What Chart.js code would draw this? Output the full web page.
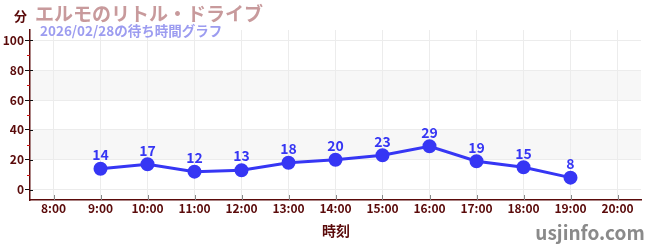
<!DOCTYPE html>
<html>
<head>
<meta charset="utf-8">
<script src="https://cdn.jsdelivr.net/npm/chart.js@4"></script>
<style>
  body { margin: 0; background: #fff; }
  canvas { display: block; }
</style>
</head>
<body>
<canvas id="waitChart" width="650" height="250"></canvas>
<script>
const hours = ['8:00', '9:00', '10:00', '11:00', '12:00', '13:00', '14:00', '15:00', '16:00', '17:00', '18:00', '19:00', '20:00'];
const waitMinutes = [null, 14, 17, 12, 13, 18, 20, 23, 29, 19, 15, 8, null];
const yTicks = [0, 20, 40, 60, 80, 100];
const yMinorTicks = [10, 30, 50, 70, 90];
const bands = [[20, 40], [60, 80]];

const FONT = '"Noto Sans CJK JP", "Noto Sans", sans-serif';
const MAROON = '#5a0a0a';
const BLUE = '#3636f4';

const decorPlugin = {
  id: 'decor',
  beforeDraw(chart) {
    const { ctx, chartArea, scales } = chart;
    ctx.save();
    ctx.fillStyle = '#f7f7f7';
    bands.forEach(([a, b]) => {
      const y1 = scales.y.getPixelForValue(b);
      const y2 = scales.y.getPixelForValue(a);
      ctx.fillRect(chartArea.left, y1, chartArea.right - chartArea.left, y2 - y1);
    });
    ctx.restore();
  },
  afterDraw(chart) {
    const { ctx, chartArea, scales } = chart;
    ctx.save();
    // minor ticks on the y axis
    ctx.strokeStyle = '#d01010';
    ctx.lineWidth = 1;
    yMinorTicks.forEach(v => {
      const y = Math.round(scales.y.getPixelForValue(v)) + 0.5;
      ctx.beginPath();
      ctx.moveTo(chartArea.left - 3, y);
      ctx.lineTo(chartArea.left, y);
      ctx.stroke();
    });
    // major ticks cross the axis a little
    ctx.strokeStyle = '#111';
    yTicks.forEach(v => {
      const y = Math.round(scales.y.getPixelForValue(v)) + 0.5;
      ctx.beginPath();
      ctx.moveTo(chartArea.left, y);
      ctx.lineTo(chartArea.left + 3, y);
      ctx.stroke();
    });
    // x ticks inside the area
    ctx.strokeStyle = '#888';
    hours.forEach((h, i) => {
      const x = Math.round(scales.x.getPixelForValue(i)) + 0.5;
      ctx.beginPath();
      ctx.moveTo(x, chartArea.bottom - 5);
      ctx.lineTo(x, chartArea.bottom);
      ctx.stroke();
    });
    // value labels
    const meta = chart.getDatasetMeta(0);
    ctx.fillStyle = BLUE;
    ctx.font = 'bold 14px ' + FONT;
    ctx.textAlign = 'center';
    ctx.textBaseline = 'bottom';
    meta.data.forEach((pt, i) => {
      if (waitMinutes[i] == null) return;
      ctx.fillText(String(waitMinutes[i]), pt.x, pt.y - 7);
    });
    // texts
    ctx.textBaseline = 'middle';
    ctx.textAlign = 'left';
    ctx.fillStyle = '#c89a9c';
    ctx.font = 'bold 19px ' + FONT;
    ctx.fillText('エルモのリトル・ドライブ', 35, 14);
    ctx.fillStyle = '#9c9cf0';
    ctx.font = 'bold 13.5px ' + FONT;
    ctx.fillText('2026/02/28の待ち時間グラフ', 40, 31);
    ctx.fillStyle = MAROON;
    ctx.font = 'bold 13px ' + FONT;
    ctx.fillText('分', 14, 16);
    ctx.textAlign = 'center';
    ctx.font = 'bold 14px ' + FONT;
    ctx.fillText('時刻', 336, 231);
    ctx.fillStyle = '#8a8a8a';
    ctx.font = 'bold 19px ' + FONT;
    ctx.fillText('usjinfo.com', 590, 233);
    ctx.restore();
  }
};

new Chart(document.getElementById('waitChart').getContext('2d'), {
  type: 'line',
  data: {
    labels: hours,
    datasets: [{
      data: waitMinutes,
      borderColor: BLUE,
      backgroundColor: BLUE,
      borderWidth: 3,
      pointRadius: 5.5,
      pointHoverRadius: 5.5,
      tension: 0,
      spanGaps: false
    }]
  },
  options: {
    responsive: false,
    animation: false,
    layout: { padding: { top: 30, right: 9, left: 0, bottom: 0 } },
    plugins: { legend: { display: false }, tooltip: { enabled: false } },
    scales: {
      x: {
        offset: true,
        grid: {
          offset: false,
          color: '#ececec',
          borderDash: [4, 5],
          tickLength: 0
        },
        border: { color: MAROON, width: 1.5 },
        ticks: {
          color: MAROON,
          padding: 1,
          maxRotation: 0,
          autoSkip: false,
          font: { family: FONT, size: 12, weight: 'bold' }
        },
        afterFit(scale) { scale.height = 50; }
      },
      y: {
        min: -7,
        max: 107,
        afterBuildTicks(scale) { scale.ticks = yTicks.map(v => ({ value: v })); },
        grid: {
          color: '#ececec',
          borderDash: [4, 5],
          tickColor: '#111',
          tickLength: 5,
          tickBorderDash: []
        },
        border: { color: MAROON, width: 1.5 },
        ticks: {
          color: MAROON,
          padding: 1,
          font: { family: FONT, size: 12, weight: 'bold' }
        },
        afterFit(scale) { scale.width = 30; }
      }
    }
  },
  plugins: [decorPlugin]
});
</script>
</body>
</html>
